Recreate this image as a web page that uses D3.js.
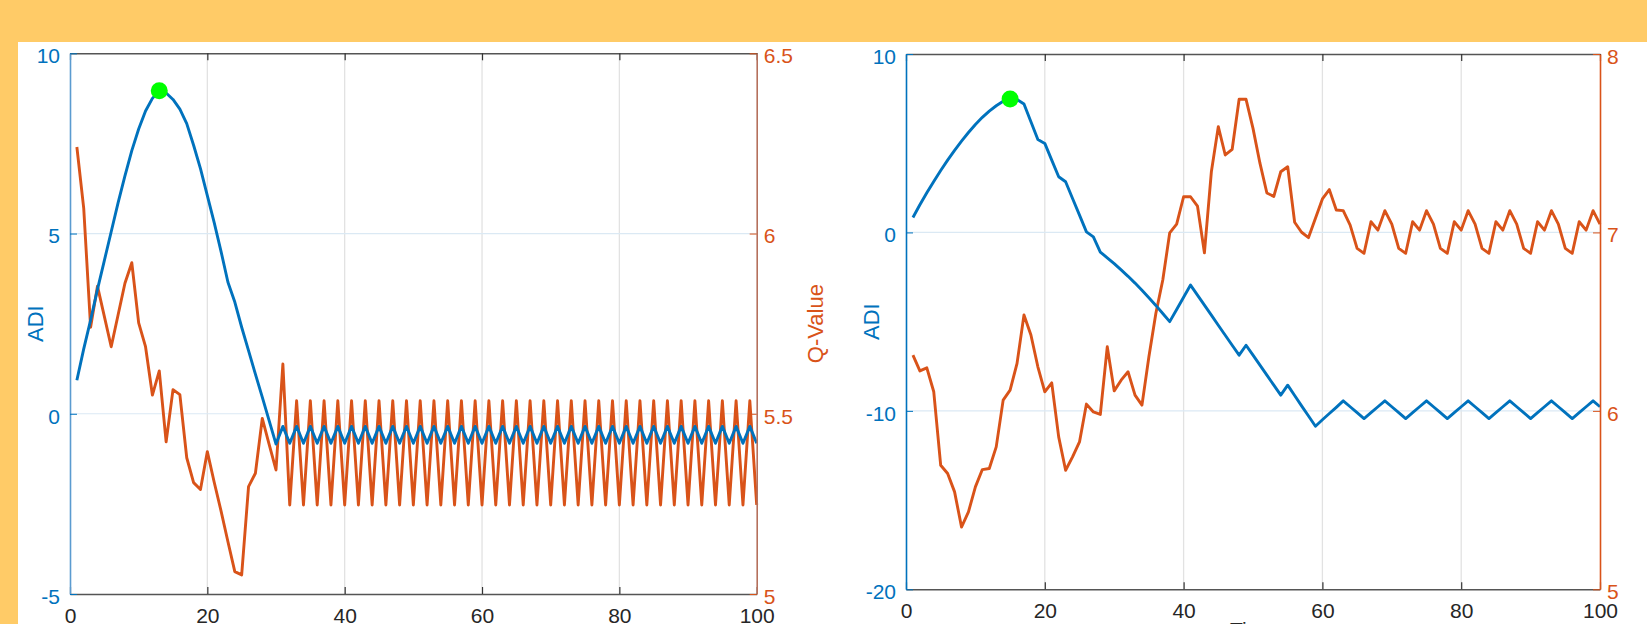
<!DOCTYPE html>
<html>
<head>
<meta charset="utf-8">
<script src="https://cdn.jsdelivr.net/npm/d3@7"></script>
<style>
  body { margin: 0; background: #ffcb67; }
  svg { display: block; font-family: 'Liberation Sans', Arial, sans-serif; }
</style>
</head>
<body>
<script>
// step index shared by both panels
const steps = d3.range(1, 101);

// left panel
const adiA = [0.93, 1.8, 2.6, 3.45, 4.25, 5.05, 5.85, 6.6, 7.3, 7.9,
  8.4, 8.75, 8.96, 8.9, 8.72, 8.45, 8.05, 7.45, 6.8, 6.05,
  5.3, 4.5, 3.65, 3.1, 2.4, 1.75, 1.1, 0.46, -0.19, -0.84,
  -0.35, -0.82, -0.35, -0.82, -0.35, -0.82, -0.35, -0.82, -0.35, -0.82,
  -0.35, -0.82, -0.35, -0.82, -0.35, -0.82, -0.35, -0.82, -0.35, -0.82,
  -0.35, -0.82, -0.35, -0.82, -0.35, -0.82, -0.35, -0.82, -0.35, -0.82,
  -0.35, -0.82, -0.35, -0.82, -0.35, -0.82, -0.35, -0.82, -0.35, -0.82,
  -0.35, -0.82, -0.35, -0.82, -0.35, -0.82, -0.35, -0.82, -0.35, -0.82,
  -0.35, -0.82, -0.35, -0.82, -0.35, -0.82, -0.35, -0.82, -0.35, -0.82,
  -0.35, -0.82, -0.35, -0.82, -0.35, -0.82, -0.35, -0.82, -0.35, -0.82];
const qA = [6.24, 6.07, 5.74, 5.854, 5.77, 5.686, 5.774, 5.862, 5.919, 5.752,
  5.686, 5.552, 5.619, 5.422, 5.567, 5.553, 5.378, 5.309, 5.29, 5.395,
  5.31, 5.23, 5.145, 5.062, 5.053, 5.298, 5.335, 5.487, 5.415, 5.344,
  5.638, 5.247, 5.536, 5.247, 5.536, 5.247, 5.536, 5.247, 5.536, 5.247,
  5.536, 5.247, 5.536, 5.247, 5.536, 5.247, 5.536, 5.247, 5.536, 5.247,
  5.536, 5.247, 5.536, 5.247, 5.536, 5.247, 5.536, 5.247, 5.536, 5.247,
  5.536, 5.247, 5.536, 5.247, 5.536, 5.247, 5.536, 5.247, 5.536, 5.247,
  5.536, 5.247, 5.536, 5.247, 5.536, 5.247, 5.536, 5.247, 5.536, 5.247,
  5.536, 5.247, 5.536, 5.247, 5.536, 5.247, 5.536, 5.247, 5.536, 5.247,
  5.536, 5.247, 5.536, 5.247, 5.536, 5.247, 5.536, 5.247, 5.536, 5.247];

// right panel
const adiB = [0.84, 1.55, 2.22, 2.86, 3.47, 4.05, 4.6, 5.12, 5.6, 6.05,
  6.45, 6.8, 7.1, 7.35, 7.48, 7.45, 7.2, 6.2, 5.21, 4.99,
  4.05, 3.12, 2.84, 1.9, 0.97, 0.03, -0.25, -1.1, -1.42, -1.75,
  -2.1, -2.46, -2.84, -3.24, -3.66, -4.09, -4.54, -5.0, -4.32, -3.63,
  -2.95, -3.51, -4.07, -4.63, -5.2, -5.76, -6.32, -6.88, -6.32, -6.88,
  -7.44, -8.0, -8.56, -9.12, -8.56, -9.14, -9.72, -10.29, -10.86, -10.5,
  -10.15, -9.8, -9.44, -9.77, -10.1, -10.43, -10.1, -9.77, -9.44, -9.77,
  -10.1, -10.43, -10.1, -9.77, -9.44, -9.77, -10.1, -10.43, -10.1, -9.77,
  -9.44, -9.77, -10.1, -10.43, -10.1, -9.77, -9.44, -9.77, -10.1, -10.43,
  -10.1, -9.77, -9.44, -9.77, -10.1, -10.43, -10.1, -9.77, -9.44, -9.77];
const qB = [6.312, 6.224, 6.241, 6.107, 5.695, 5.649, 5.546, 5.349, 5.434, 5.574,
  5.671, 5.677, 5.798, 6.06, 6.116, 6.266, 6.537, 6.425, 6.247, 6.107,
  6.157, 5.854, 5.667, 5.742, 5.826, 6.038, 5.994, 5.98, 6.359, 6.112,
  6.172, 6.219, 6.088, 6.032, 6.303, 6.546, 6.733, 6.998, 7.047, 7.2,
  7.2, 7.148, 6.886, 7.34, 7.593, 7.434, 7.466, 7.746, 7.746, 7.583,
  7.388, 7.221, 7.202, 7.34, 7.368, 7.057, 7.001, 6.971, 7.079, 7.188,
  7.24, 7.126, 7.122, 7.041, 6.911, 6.883, 7.06, 7.013, 7.122, 7.047,
  6.911, 6.883, 7.06, 7.013, 7.122, 7.047, 6.911, 6.883, 7.06, 7.013,
  7.122, 7.047, 6.911, 6.883, 7.06, 7.013, 7.122, 7.047, 6.911, 6.883,
  7.06, 7.013, 7.122, 7.047, 6.911, 6.883, 7.06, 7.013, 7.122, 7.047];

// ticks
const xTicks = [0, 20, 40, 60, 80, 100];
const adiTicksA = [-5, 0, 5, 10];
const qTicksA = [5, 5.5, 6, 6.5];
const adiTicksB = [-20, -10, 0, 10];
const qTicksB = [5, 6, 7, 8];

const BLUE = '#0072bd';
const ORANGE = '#d95319';

const width = 1647, height = 624;

const svg = d3.select('body').append('svg')
  .attr('width', width)
  .attr('height', height);

svg.append('rect').attr('width', width).attr('height', height).attr('fill', '#ffcb67');
svg.append('rect').attr('x', 18).attr('y', 42).attr('width', width - 18).attr('height', height - 42).attr('fill', '#fff');

const panels = [
  { adi: adiA, q: qA, adiTicks: adiTicksA, qTicks: qTicksA,
    left: 70, right: 756.7, top: 53.3, bottom: 594, leftAxis: '#5b9bd0', rightAxis: '#b5705c' },
  { adi: adiB, q: qB, adiTicks: adiTicksB, qTicks: qTicksB,
    left: 906, right: 1600, top: 54, bottom: 589.3, leftAxis: BLUE, rightAxis: ORANGE }
];

panels.forEach(p => drawPanel(p));

function drawPanel(p) {
  const x = d3.scaleLinear().domain([0, 100]).range([p.left, p.right]);
  const yL = d3.scaleLinear().domain(d3.extent(p.adiTicks)).range([p.bottom, p.top]);
  const yR = d3.scaleLinear().domain(d3.extent(p.qTicks)).range([p.bottom, p.top]);
  const g = svg.append('g');
  const fmt = d => String(d);

  // grid
  g.selectAll('.vgrid').data(xTicks.slice(1, -1)).enter().append('line')
    .attr('x1', d => x(d)).attr('x2', d => x(d))
    .attr('y1', p.top).attr('y2', p.bottom)
    .attr('stroke', '#e2e2e2').attr('stroke-width', 1.3);
  g.selectAll('.hgrid').data(p.adiTicks.slice(1, -1)).enter().append('line')
    .attr('x1', p.left).attr('x2', p.right)
    .attr('y1', d => yL(d)).attr('y2', d => yL(d))
    .attr('stroke', '#dbe9f4').attr('stroke-width', 1.2);

  // series
  const lineL = d3.line().x((d, i) => x(steps[i])).y(d => yL(d));
  const lineR = d3.line().x((d, i) => x(steps[i])).y(d => yR(d));
  g.append('path').datum(p.q).attr('d', lineR)
    .attr('fill', 'none').attr('stroke', ORANGE).attr('stroke-width', 2.9).attr('stroke-linejoin', 'round');
  g.append('path').datum(p.adi).attr('d', lineL)
    .attr('fill', 'none').attr('stroke', BLUE).attr('stroke-width', 2.9).attr('stroke-linejoin', 'round');

  // peak marker
  const k = d3.maxIndex(p.adi);
  g.append('circle').attr('cx', x(steps[k])).attr('cy', yL(p.adi[k])).attr('r', 8.5).attr('fill', '#00ff00');

  // axes
  const bottom = g.append('g').attr('transform', 'translate(0,' + p.bottom + ')')
    .call(d3.axisBottom(x).tickValues(xTicks).tickFormat(fmt).tickSizeInner(-7).tickSizeOuter(0).tickPadding(14));
  const top = g.append('g').attr('transform', 'translate(0,' + p.top + ')')
    .call(d3.axisTop(x).tickValues(xTicks).tickFormat('').tickSizeInner(-7).tickSizeOuter(0));
  [bottom, top].forEach(a => {
    a.select('.domain').attr('stroke', '#555').attr('stroke-width', 1.6);
    a.selectAll('.tick line').attr('stroke', '#333').attr('stroke-width', 1.2);
    a.selectAll('text').attr('fill', '#262626').attr('font-size', 21);
  });

  const la = g.append('g').attr('transform', 'translate(' + p.left + ',0)')
    .call(d3.axisLeft(yL).tickValues(p.adiTicks).tickFormat(fmt).tickSizeInner(-7).tickSizeOuter(0).tickPadding(10));
  la.select('.domain').attr('stroke', p.leftAxis).attr('stroke-width', 1.6);
  la.selectAll('.tick line').attr('stroke', BLUE);
  la.selectAll('text').attr('fill', BLUE).attr('font-size', 21).attr('dy', '0.45em');

  const ra = g.append('g').attr('transform', 'translate(' + p.right + ',0)')
    .call(d3.axisRight(yR).tickValues(p.qTicks).tickFormat(fmt).tickSizeInner(-7).tickSizeOuter(0).tickPadding(7));
  ra.select('.domain').attr('stroke', p.rightAxis).attr('stroke-width', 1.6);
  ra.selectAll('.tick line').attr('stroke', ORANGE);
  ra.selectAll('text').attr('fill', ORANGE).attr('font-size', 21).attr('dy', '0.45em');

  // axis titles
  const midY = (p.top + p.bottom) / 2;
  g.append('text').attr('transform', 'translate(' + (p.left - 27) + ',' + midY + ') rotate(-90)')
    .attr('text-anchor', 'middle').attr('fill', BLUE).attr('font-size', 22).text('ADI');
  g.append('text').attr('transform', 'translate(' + (p.right + 66) + ',' + midY + ') rotate(-90)')
    .attr('text-anchor', 'middle').attr('fill', ORANGE).attr('font-size', 22).text('Q-Value');
  g.append('text').attr('x', (p.left + p.right) / 2).attr('y', p.bottom + 48)
    .attr('text-anchor', 'middle').attr('fill', '#262626').attr('font-size', 21).text('Time');
}
</script>
</body>
</html>
